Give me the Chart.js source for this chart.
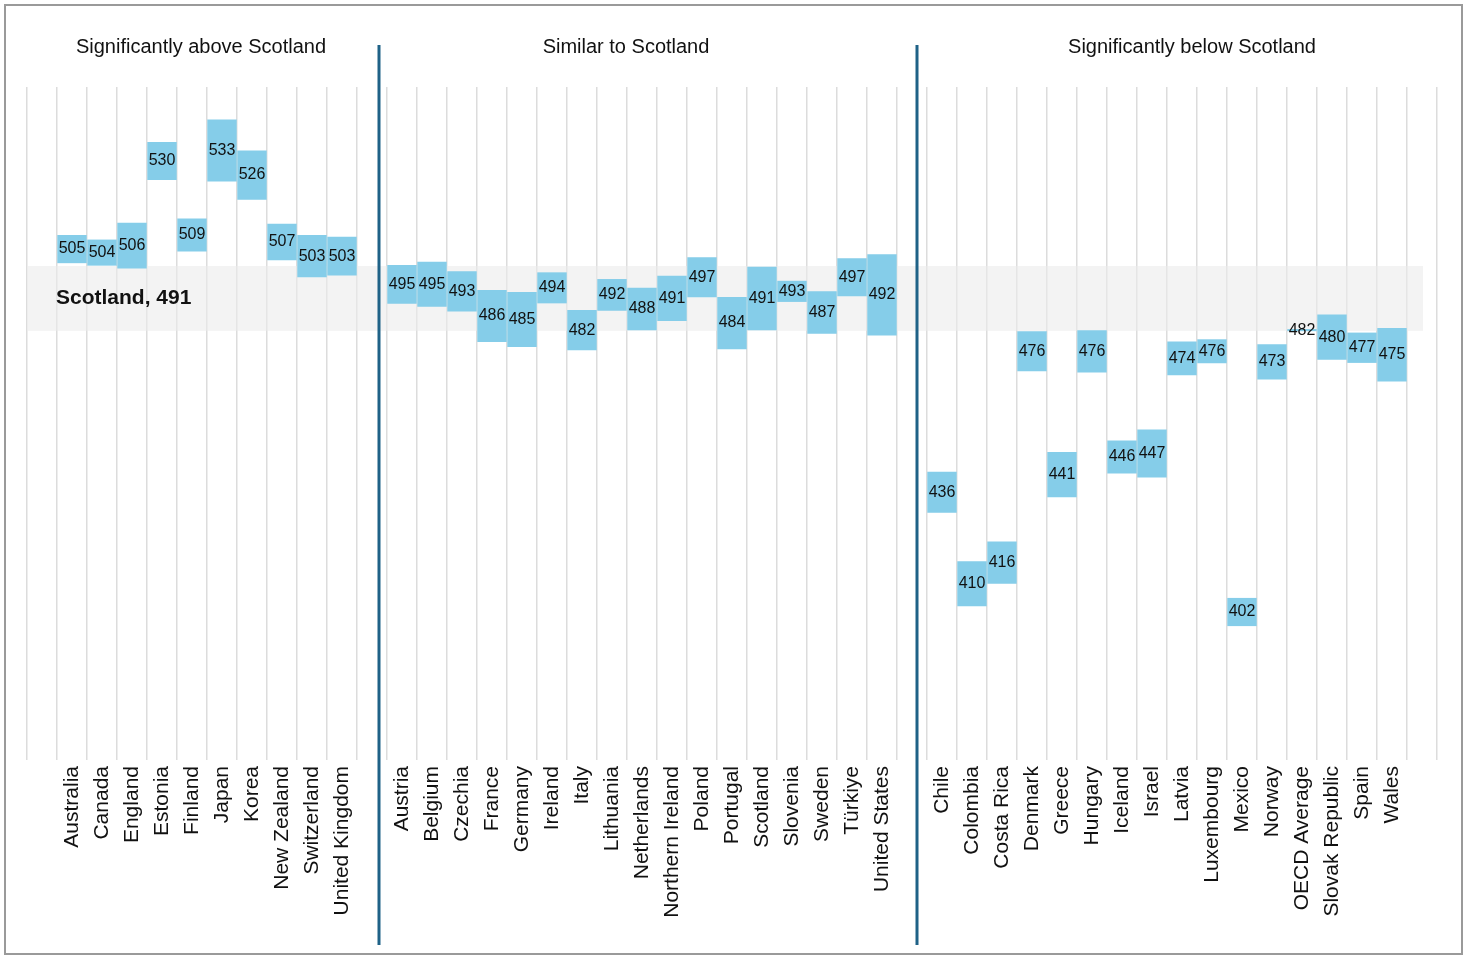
<!DOCTYPE html>
<html><head><meta charset="utf-8">
<script src="https://cdn.jsdelivr.net/npm/chart.js@4"></script>
<style>html,body{margin:0;padding:0;background:#fff}#w{position:relative;width:1472px;height:964px}</style>
</head><body><div id="w"><canvas id="c" width="1472" height="964"></canvas></div>
<script>
const groupAbove = ["Australia","Canada","England","Estonia","Finland","Japan","Korea","New Zealand","Switzerland","United Kingdom"];
const scoresAbove = [505,504,506,530,509,533,526,507,503,503];
const halfAbove = [4,3.7,6.5,5.4,4.7,8.8,7,5.2,6,5.5];
const groupSimilar = ["Austria","Belgium","Czechia","France","Germany","Ireland","Italy","Lithuania","Netherlands","Northern Ireland","Poland","Portugal","Scotland","Slovenia","Sweden","Türkiye","United States"];
const scoresSimilar = [495,495,493,486,485,494,482,492,488,491,497,484,491,493,487,497,492];
const halfSimilar = [5.5,6.4,5.7,7.4,7.8,4.4,5.7,4.5,6,6.4,5.7,7.4,9,3,6,5.4,11.5];
const groupBelow = ["Chile","Colombia","Costa Rica","Denmark","Greece","Hungary","Iceland","Israel","Latvia","Luxembourg","Mexico","Norway","OECD Average","Slovak Republic","Spain","Wales"];
const scoresBelow = [436,410,416,476,441,476,446,447,474,476,402,473,482,480,477,475];
const halfBelow = [5.8,6.4,6,5.7,6.4,6,4.7,6.8,4.8,3.4,4,5,0.3,6.4,4.3,7.6];
const groupTitles = ["Significantly above Scotland","Similar to Scotland","Significantly below Scotland"];
const scotlandScore = 491, scotlandHalf = 9.2;

const labels = ["", ...groupAbove, "", ...groupSimilar, "", ...groupBelow, ""];
const scores = [null, ...scoresAbove, null, ...scoresSimilar, null, ...scoresBelow, null];
const halves = [null, ...halfAbove, null, ...halfSimilar, null, ...halfBelow, null];
const ranges = scores.map((s,i)=> s==null ? null : [s-halves[i], s+halves[i]]);

const deco = {
  id:'deco',
  beforeDraw(chart){
    const {ctx} = chart; const y = chart.scales.y, x = chart.scales.x;
    ctx.save();
    ctx.fillStyle='#fff'; ctx.fillRect(0,0,1472,964);
    ctx.strokeStyle='#9a9a9a'; ctx.lineWidth=2; ctx.strokeRect(5,5,1457,949);
    ctx.restore();
  },
  beforeDatasetsDraw(chart){
    const {ctx} = chart; const y = chart.scales.y, x = chart.scales.x;
    ctx.save();
    ctx.fillStyle='rgba(235,235,235,0.6)';
    const t=y.getPixelForValue(scotlandScore+scotlandHalf), b=y.getPixelForValue(scotlandScore-scotlandHalf);
    ctx.fillRect(x.getPixelForValue(0)-30+16, t, x.getPixelForValue(46)+1-(x.getPixelForValue(0)-14), b-t);
    ctx.restore();
  },
  afterDatasetsDraw(chart){
    const {ctx} = chart; const y = chart.scales.y, x = chart.scales.x;
    ctx.save();
    ctx.fillStyle='#111'; ctx.font='16px "Liberation Sans", Arial'; ctx.textAlign='center'; ctx.textBaseline='middle';
    scores.forEach((s,i)=>{ if(s==null) return; ctx.fillText(String(s), x.getPixelForValue(i), y.getPixelForValue(s)); });
    ctx.font='bold 21px "Liberation Sans", Arial'; ctx.textAlign='left';
    ctx.fillText('Scotland, ' + scotlandScore, 56, y.getPixelForValue(scotlandScore));
    ctx.strokeStyle='#1f6287'; ctx.lineWidth=3;
    [x.getPixelForValue(11)+7, x.getPixelForValue(29)+5].forEach(px=>{ctx.beginPath();ctx.moveTo(px,45);ctx.lineTo(px,945);ctx.stroke();});
    ctx.font='20px "Liberation Sans", Arial'; ctx.textAlign='center';
    const c1=(x.getPixelForValue(1)+x.getPixelForValue(10))/2-6;
    const c2=(x.getPixelForValue(12)+x.getPixelForValue(28))/2-16;
    const c3=(x.getPixelForValue(30)+x.getPixelForValue(45))/2+25;
    [c1,c2,c3].forEach((c,i)=>ctx.fillText(groupTitles[i], c, 47));
    ctx.restore();
  }
};

new Chart(document.getElementById('c'), {
  type:'bar',
  data:{labels, datasets:[{data:ranges, backgroundColor:'#85cde9', barPercentage:0.98, categoryPercentage:1, borderSkipped:false}]},
  options:{
    responsive:false, animation:false,
    layout:{padding:{left:27,right:35,top:87,bottom:14}},
    plugins:{legend:{display:false},tooltip:{enabled:false}},
    scales:{
      x:{offset:true, grid:{offset:true,color:'#dcdcdc',lineWidth:1.5,drawTicks:false}, border:{display:false},
         ticks:{autoSkip:false,maxRotation:90,minRotation:90,color:'#111',font:{size:21,family:'"Liberation Sans", Arial'},padding:6},
         afterFit(s){s.height=190;}},
      y:{display:false,min:360,max:551}
    }
  },
  plugins:[deco]
});
</script></body></html>
